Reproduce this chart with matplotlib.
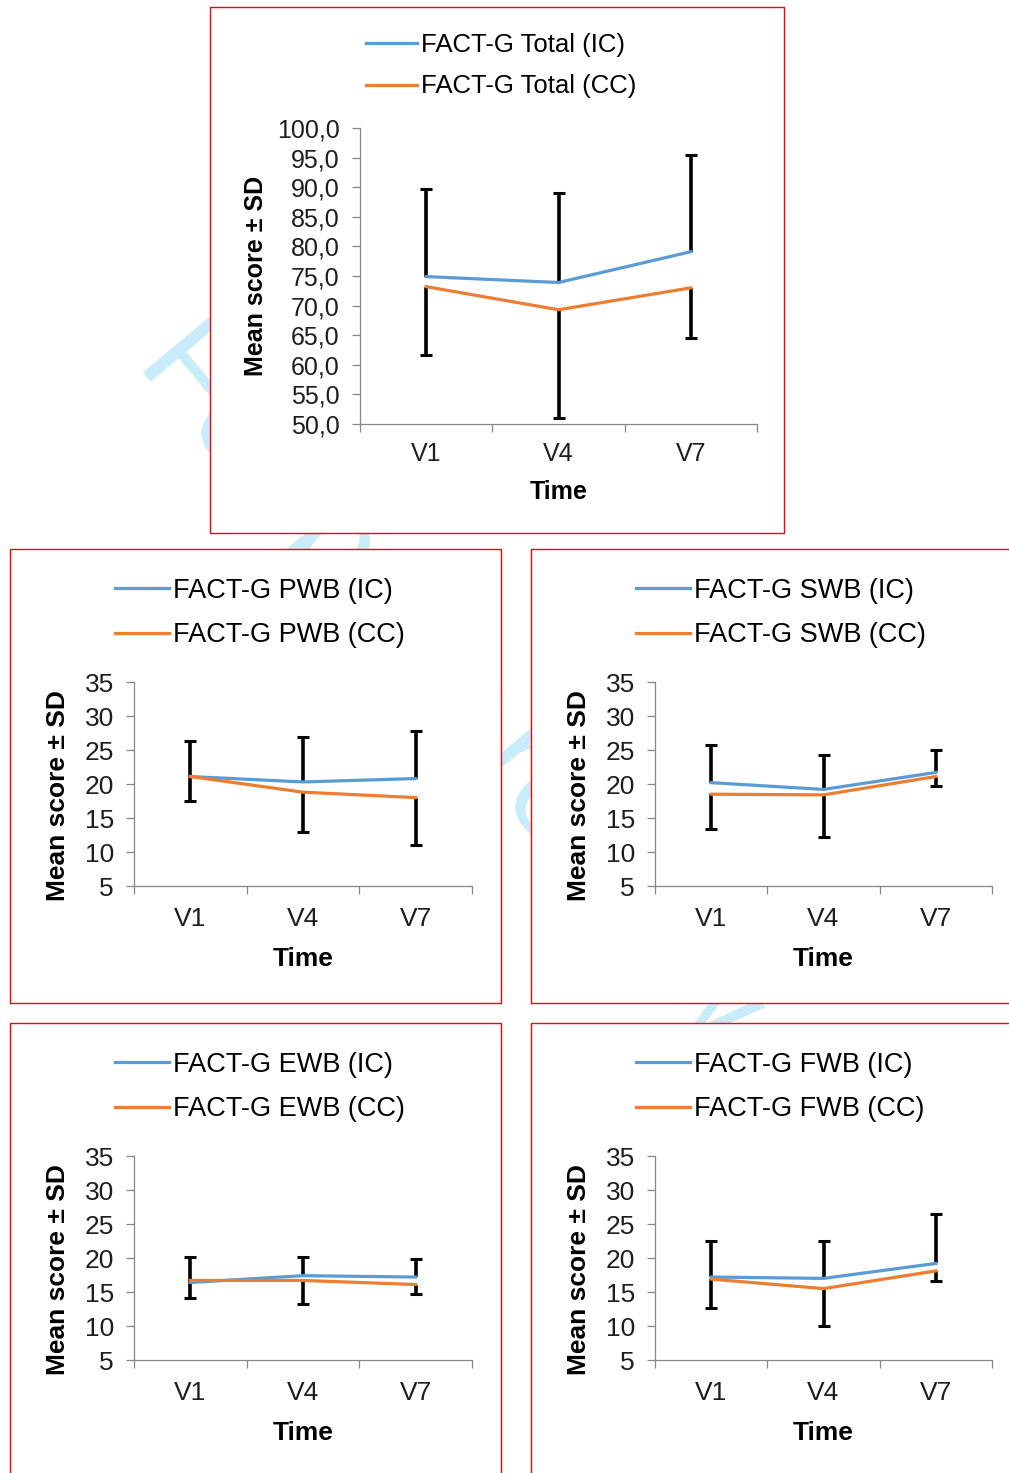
import matplotlib.pyplot as plt
from matplotlib.patches import Rectangle

plt.rcParams['font.family'] = ['Liberation Sans', 'DejaVu Sans']

W, H = 1009, 1473
BLUE = '#5B9BD5'
ORANGE = '#ED7D31'
GREY = '#868686'

#%% Data
visits = ['V1', 'V4', 'V7']

total_ic = [74.9, 73.9, 79.1]
total_ic_up = [89.7, 89.0, 95.5]
total_cc = [73.2, 69.3, 73.0]
total_cc_low = [61.7, 51.0, 64.5]

pwb_ic = [21.1, 20.3, 20.8]
pwb_ic_up = [26.3, 26.9, 27.8]
pwb_cc = [21.1, 18.8, 18.0]
pwb_cc_low = [17.5, 12.9, 11.0]

swb_ic = [20.2, 19.2, 21.7]
swb_ic_up = [25.8, 24.2, 25.0]
swb_cc = [18.5, 18.4, 21.1]
swb_cc_low = [13.4, 12.2, 19.7]

ewb_ic = [16.4, 17.4, 17.2]
ewb_ic_up = [20.2, 20.2, 19.8]
ewb_cc = [16.7, 16.7, 16.1]
ewb_cc_low = [14.1, 13.3, 14.7]

fwb_ic = [17.2, 17.0, 19.2]
fwb_ic_up = [22.5, 22.5, 26.4]
fwb_cc = [16.9, 15.5, 18.1]
fwb_cc_low = [12.6, 10.0, 16.6]

total_ticks = [50, 55, 60, 65, 70, 75, 80, 85, 90, 95, 100]
total_ticklabels = ['50,0', '55,0', '60,0', '65,0', '70,0', '75,0',
                    '80,0', '85,0', '90,0', '95,0', '100,0']
sub_ticks = [5, 10, 15, 20, 25, 30, 35]
sub_ticklabels = ['5', '10', '15', '20', '25', '30', '35']

#%% Figure
fig = plt.figure(figsize=(W / 100, H / 100), dpi=100)

# faint watermark behind the chart boxes
fig.text(136 / W, 1 - 364 / H, 'For peer review only', rotation=-50,
         rotation_mode='anchor', ha='left', va='baseline', fontsize=93,
         color='#c8ecfa', zorder=0.5)


def px_rect(x0, y0, x1, y1):
    return [x0 / W, 1 - y1 / H, (x1 - x0) / W, (y1 - y0) / H]


def draw_panel(box, ax_px, leg_px, name, ic, ic_up, cc, cc_low,
               ticks, ticklabels, fs, ylab_y, xlab_y, ylab_x, xpad):
    # red frame around each chart
    fig.patches.append(Rectangle((box[0] / W, 1 - box[3] / H),
                                 (box[2] - box[0]) / W, (box[3] - box[1]) / H,
                                 transform=fig.transFigure, fc='white',
                                 ec='red', lw=1.0, zorder=1))
    ax = fig.add_axes(px_rect(*ax_px))
    ax.set_zorder(2)
    ax.patch.set_visible(False)

    x = list(range(len(visits)))
    # IC: plus error bars only, CC: minus error bars only
    up = [u - m for u, m in zip(ic_up, ic)]
    eb = ax.errorbar(x, ic, yerr=[[0] * 3, up], fmt='none', ecolor='black',
                     elinewidth=2.6, capsize=4.3, capthick=2.2, zorder=2)
    eb[1][0].set_visible(False)
    low = [m - l for m, l in zip(cc, cc_low)]
    eb = ax.errorbar(x, cc, yerr=[low, [0] * 3], fmt='none', ecolor='black',
                     elinewidth=2.6, capsize=4.3, capthick=2.2, zorder=2)
    eb[1][1].set_visible(False)

    ax.plot(x, ic, color=BLUE, lw=2.3, zorder=3, solid_joinstyle='round',
            label='FACT-G %s (IC)' % name)
    ax.plot(x, cc, color=ORANGE, lw=2.3, zorder=3, solid_joinstyle='round',
            label='FACT-G %s (CC)' % name)

    ax.set_xlim(-0.5, 2.5)
    ax.set_ylim(ticks[0], ticks[-1])
    for s in ['top', 'right']:
        ax.spines[s].set_visible(False)
    for s in ['left', 'bottom']:
        ax.spines[s].set_color(GREY)
        ax.spines[s].set_linewidth(0.9)

    ax.set_xticks(x)
    ax.set_xticklabels(visits)
    ax.set_xticks([-0.5, 0.5, 1.5, 2.5], minor=True)
    ax.tick_params(axis='x', which='major', length=0, pad=xpad, labelsize=fs,
                   labelcolor='#1e1e1e')
    ax.tick_params(axis='x', which='minor', length=5.5, width=0.9, color=GREY)
    ax.set_yticks(ticks)
    ax.set_yticklabels(ticklabels)
    ax.tick_params(axis='y', length=5.5, width=0.9, color=GREY, pad=9,
                   labelsize=fs, labelcolor='#1e1e1e')

    ax.set_ylabel('Mean score \u00b1 SD', fontsize=fs, fontweight='bold',
                  va='center')
    ax.yaxis.set_label_coords(ylab_x, ylab_y)
    ax.set_xlabel('Time', fontsize=fs, fontweight='bold', va='center')
    ax.xaxis.set_label_coords(0.5, xlab_y)

    ax.legend(loc='center left', bbox_to_anchor=(leg_px[0] / W, 1 - leg_px[1] / H),
              bbox_transform=fig.transFigure, frameon=False, fontsize=fs + 0.5,
              handlelength=2.0, handletextpad=0.15, labelspacing=0.7,
              borderpad=0, borderaxespad=0)
    return ax


draw_panel((210, 7, 784, 533), (360, 128, 757, 424), (366, 65.5), 'Total',
           total_ic, total_ic_up, total_cc, total_cc_low,
           total_ticks, total_ticklabels, 18, 0.5, -0.230, -0.262, 13)

draw_panel((10, 549, 501, 1003), (134, 682, 472, 886), (115, 613), 'PWB',
           pwb_ic, pwb_ic_up, pwb_cc, pwb_cc_low,
           sub_ticks, sub_ticklabels, 19, 0.441, -0.357, -0.225, 15)

draw_panel((531, 549, 1020, 1003), (655, 682, 992, 886), (636, 613), 'SWB',
           swb_ic, swb_ic_up, swb_cc, swb_cc_low,
           sub_ticks, sub_ticklabels, 19, 0.441, -0.357, -0.225, 15)

draw_panel((10, 1023, 501, 1490), (134, 1156, 472, 1360), (115, 1087), 'EWB',
           ewb_ic, ewb_ic_up, ewb_cc, ewb_cc_low,
           sub_ticks, sub_ticklabels, 19, 0.441, -0.357, -0.225, 15)

draw_panel((531, 1023, 1020, 1490), (655, 1156, 992, 1360), (636, 1087), 'FWB',
           fwb_ic, fwb_ic_up, fwb_cc, fwb_cc_low,
           sub_ticks, sub_ticklabels, 19, 0.441, -0.357, -0.225, 15)

plt.savefig('out.png', dpi=100)
